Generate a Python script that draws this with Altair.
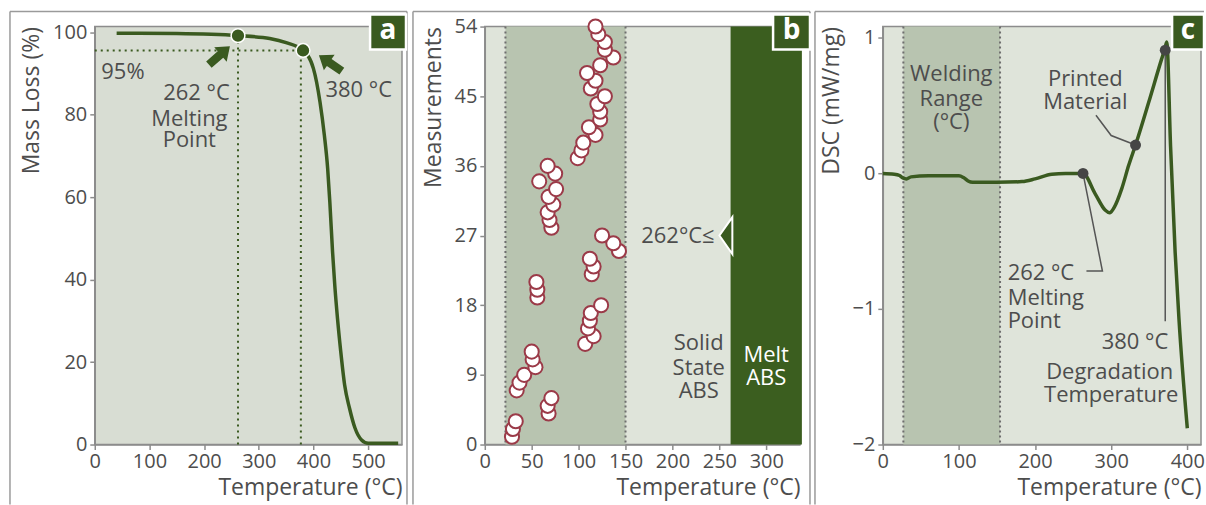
import altair as alt
import pandas as pd

FONT = "Open Sans"
TXT = "#4d4d4d"
GREEN = "#3a5a20"
FRAME = "#9a9a9a"
H = 419
TFS = 22  # annotation font size

# ---------------- Panel a: TGA ----------------
tga_temp = [40, 150, 262, 320, 350, 381, 400, 412, 420, 426, 430, 435, 439, 444, 450, 457, 466, 476, 488, 500, 555]
tga_mass = [99.8, 99.7, 99.2, 98.5, 97.5, 95.6, 91.2, 83.1, 75, 67, 58.8, 46.7, 38.7, 30.6, 22.5, 14.5, 8.8, 4, 1.1, 0.3, 0.3]
tga_pt_temp = [262, 381]
tga_pt_mass = [99.2, 95.6]
a_h_t = [0]
a_h_t2 = [381]
a_h_v = [95.6]
a_v_t = [262, 377]
a_v_top = [99.2, 95.6]
arrow_t = [228, 431]
arrow_v = [94.4, 92.5]
arrow_angle = [319, 214.6]
a_lbl_left = ["95%", "380 °C"]
a_lbl_left_t = [12, 422]
a_lbl_left_v = [90.3, 85.9]
a_lbl_mid = ["262 °C", "Melting", "Point"]
a_lbl_mid_t = [186, 173, 173]
a_lbl_mid_v = [85.2, 79, 73.9]

# ---------------- Panel b: measurements ----------------
b_meas = list(range(1, 55))
b_temp = [29, 30, 33, 68, 67, 71, 34, 37, 42, 54, 51, 50, 107, 116, 110, 112, 113, 124, 56, 56,
          55, 114, 116, 112, 143, 137, 125, 71, 69, 67, 73, 68, 76, 58, 75, 67, 99, 103, 105, 118,
          111, 123, 123, 120, 128, 113, 118, 109, 123, 137, 128, 128, 121, 118]
b_weld = [22, 150]
b_melt = [262, 338]
b_tri_t = [257]
b_tri_v = [27]
b_lbl_right = ["262°C≤"]
b_lbl_right_t = [245]
b_lbl_right_v = [27]
b_solid = ["Solid", "State", "ABS"]
b_solid_t = [228, 228, 228]
b_solid_v = [13.1, 9.9, 6.9]
b_meltlbl = ["Melt", "ABS"]
b_meltlbl_t = [300, 300]
b_meltlbl_v = [11.6, 8.6]

# ---------------- Panel c: DSC ----------------
dsc_temp = [0, 15, 22, 27, 31, 37, 60, 100, 106, 112, 118, 150, 183, 200, 222, 240, 263, 279, 292, 298,
            304, 314, 323, 332, 349, 366, 371, 373, 378, 384, 389, 400]
dsc_val = [0, -0.005, -0.015, -0.035, -0.04, -0.025, -0.017, -0.017, -0.03, -0.055, -0.065, -0.065, -0.06,
           -0.04, -0.005, 0, 0, -0.15, -0.27, -0.29, -0.25, -0.11, 0.06, 0.21, 0.52, 0.84, 0.93, 0.97,
           0.2, -0.58, -1.07, -1.88]
c_weld = [27, 154]
c_pt_t = [263, 332, 371]
c_pt_v = [0, 0.21, 0.91]
lead_id = [1, 1, 1, 2, 2, 2, 3, 3]
lead_t = [263, 288.5, 267.5, 280, 300, 332, 371, 371]
lead_v = [0, -0.72, -0.72, 0.43, 0.28, 0.21, 0.91, -1.09]
c_lbl_mid = ["Welding", "Range", "(°C)", "Printed", "Material", "Degradation", "Temperature"]
c_lbl_mid_t = [90, 90, 90, 266, 266, 298, 300]
c_lbl_mid_v = [0.734, 0.55, 0.38, 0.697, 0.526, -1.467, -1.638]
c_lbl_left = ["262 °C", "Melting", "Point"]
c_lbl_left_t = [164, 164, 164]
c_lbl_left_v = [-0.734, -0.917, -1.088]
c_lbl_right = ["380 °C"]
c_lbl_right_t = [375]
c_lbl_right_v = [-1.247]

ONE = pd.DataFrame({"k": [0]})


def X(domain, ticks, field="t"):
    return alt.X(f"{field}:Q", scale=alt.Scale(domain=domain, nice=False, zero=False),
                 axis=alt.Axis(values=ticks, labelFlush=False), title="Temperature (°C)")


def Y(domain, ticks, title, field="v"):
    return alt.Y(f"{field}:Q", scale=alt.Scale(domain=domain, nice=False, zero=False),
                 axis=alt.Axis(values=ticks, labelFlush=False), title=title)


def texts(lbls, ts, vs, align, xe, ye, color=TXT):
    df = pd.DataFrame({"s": lbls, "t": ts, "v": vs})
    return alt.Chart(df).mark_text(font=FONT, fontSize=TFS, color=color, align=align,
                                   baseline="middle").encode(x=xe, y=ye, text="s:N")


def frame(left, right, show_right=True):
    base = alt.Chart(ONE)
    layers = [
        base.mark_rule(color=FRAME, strokeWidth=1.5).encode(
            x=alt.value(left), y=alt.value(-15), y2=alt.value(H + 60)),
        base.mark_rule(color=FRAME, strokeWidth=1.5).encode(
            x=alt.value(left), x2=alt.value(right), y=alt.value(-15)),
    ]
    if show_right:
        layers.append(base.mark_rule(color=FRAME, strokeWidth=1.5).encode(
            x=alt.value(right), y=alt.value(-15), y2=alt.value(H + 60)))
    return layers


def tag(letter, x1, x2):
    base = alt.Chart(ONE)
    return [
        base.mark_rect(fill=GREEN, stroke="white", strokeWidth=2.5).encode(
            x=alt.value(x1), x2=alt.value(x2), y=alt.value(-12), y2=alt.value(23)),
        base.mark_text(font=FONT, fontSize=28, fontWeight="bold", color="white",
                       baseline="middle").encode(
            x=alt.value((x1 + x2) / 2), y=alt.value(4), text=alt.value(letter)),
    ]


# ---- panel a
WA = 308
xa = X([0, 562], [0, 100, 200, 300, 400, 500])
ya = Y([0, 101.4], [0, 20, 40, 60, 80, 100], "Mass Loss (%)")
xa2 = alt.X2("t2:Q")
ya2 = alt.Y2("v2:Q")

tga_df = pd.DataFrame({"t": tga_temp, "v": tga_mass})
a_line = alt.Chart(tga_df).mark_line(color=GREEN, strokeWidth=3.5, interpolate="monotone").encode(x=xa, y=ya)
a_h = alt.Chart(pd.DataFrame({"t": a_h_t, "t2": a_h_t2, "v": a_h_v})).mark_rule(
    color=GREEN, strokeWidth=2, strokeDash=[2, 4]).encode(x=xa, x2=xa2, y=ya)
a_v = alt.Chart(pd.DataFrame({"t": a_v_t, "v": [0] * len(a_v_t), "v2": a_v_top})).mark_rule(
    color=GREEN, strokeWidth=2, strokeDash=[2, 4]).encode(x=xa, y=ya, y2=ya2)
a_pts = alt.Chart(pd.DataFrame({"t": tga_pt_temp, "v": tga_pt_mass})).mark_point(
    shape="circle", filled=True, fill=GREEN, stroke="white", strokeWidth=1.5, size=190, opacity=1).encode(x=xa, y=ya)
ARROW = "M-1,-0.3 L0.1,-0.3 L0.1,-0.68 L1,0 L0.1,0.68 L0.1,0.3 L-1,0.3 Z"
a_arrows = alt.Chart(pd.DataFrame({"t": arrow_t, "v": arrow_v, "ang": arrow_angle})).mark_point(
    shape=ARROW, filled=True, fill=GREEN, strokeWidth=0, size=780, opacity=1).encode(
    x=xa, y=ya, angle=alt.Angle("ang:Q", scale=None))
a_t1 = texts(a_lbl_left, a_lbl_left_t, a_lbl_left_v, "left", xa, ya)
a_t2 = texts(a_lbl_mid, a_lbl_mid_t, a_lbl_mid_v, "center", xa, ya)

panel_a = alt.layer(a_line, a_h, a_v, a_pts, a_arrows, a_t1, a_t2,
                    *frame(-85, WA + 5), *tag("a", WA - 32, WA + 4)).properties(
    width=WA, height=H, view=alt.ViewBackground(fill="#d8ddd3", stroke="#8c8c8c", strokeWidth=1.5))

# ---- panel b
WB = 316
xb = X([0, 336], [0, 50, 100, 150, 200, 250, 300])
yb = Y([0, 54], [0, 9, 18, 27, 36, 45, 54], "Measurements")
b_band = alt.Chart(pd.DataFrame({"t": [b_weld[0]], "t2": [b_weld[1]]})).mark_rect(
    fill="#b8c4b0").encode(x=xb, x2=xa2, y=alt.value(0), y2=alt.value(H))
b_meltband = alt.Chart(pd.DataFrame({"t": [b_melt[0]], "t2": [b_melt[1]]})).mark_rect(
    fill="#3b5e1f").encode(x=xb, x2=xa2, y=alt.value(0), y2=alt.value(H))
b_dots = alt.Chart(pd.DataFrame({"t": b_weld})).mark_rule(
    color="#6e6e6e", strokeWidth=2, strokeDash=[2, 3]).encode(x=xb, y=alt.value(0), y2=alt.value(H))
b_pts = alt.Chart(pd.DataFrame({"t": b_temp, "v": b_meas})).mark_circle(
    fill="white", stroke="#9b3a48", strokeWidth=2, size=200, opacity=1).encode(x=xb, y=yb)
TRI = "M0.35,-1 L-0.35,0 L0.35,1 Z"
b_tri = alt.Chart(pd.DataFrame({"t": b_tri_t, "v": b_tri_v})).mark_point(
    shape=TRI, filled=True, fill=GREEN, stroke="white", strokeWidth=2, size=1369, opacity=1).encode(x=xb, y=yb)
b_t1 = texts(b_lbl_right, b_lbl_right_t, b_lbl_right_v, "right", xb, yb)
b_t2 = texts(b_solid, b_solid_t, b_solid_v, "center", xb, yb)
b_t3 = texts(b_meltlbl, b_meltlbl_t, b_meltlbl_v, "center", xb, yb, color="white")

panel_b = alt.layer(b_band, b_meltband, b_dots, b_pts, b_tri, b_t1, b_t2, b_t3,
                    *frame(-72, WB + 10), *tag("b", WB - 27, WB + 10)).properties(
    width=WB, height=H, view=alt.ViewBackground(fill="#dfe4da", stroke="#8c8c8c", strokeWidth=1.5))

# ---- panel c
WC = 319
xc = X([0, 418], [0, 100, 200, 300, 400])
yc = Y([-2, 1.084], [-2, -1, 0, 1], "DSC (mW/mg)")
c_band = alt.Chart(pd.DataFrame({"t": [c_weld[0]], "t2": [c_weld[1]]})).mark_rect(
    fill="#b8c4b0").encode(x=xc, x2=xa2, y=alt.value(0), y2=alt.value(H))
c_dots = alt.Chart(pd.DataFrame({"t": c_weld})).mark_rule(
    color="#6e6e6e", strokeWidth=2, strokeDash=[2, 3]).encode(x=xc, y=alt.value(0), y2=alt.value(H))
c_lead = alt.Chart(pd.DataFrame({"id": lead_id, "t": lead_t, "v": lead_v, "o": list(range(len(lead_t)))})).mark_line(
    color="#555555", strokeWidth=1.5).encode(x=xc, y=yc, detail="id:N", order="o:Q")
c_line = alt.Chart(pd.DataFrame({"t": dsc_temp, "v": dsc_val})).mark_line(
    color=GREEN, strokeWidth=3.5, interpolate="monotone").encode(x=xc, y=yc)
c_pts = alt.Chart(pd.DataFrame({"t": c_pt_t, "v": c_pt_v})).mark_circle(
    color="#454545", size=120, opacity=1).encode(x=xc, y=yc)
c_t1 = texts(c_lbl_mid, c_lbl_mid_t, c_lbl_mid_v, "center", xc, yc)
c_t2 = texts(c_lbl_left, c_lbl_left_t, c_lbl_left_v, "left", xc, yc)
c_t3 = texts(c_lbl_right, c_lbl_right_t, c_lbl_right_v, "right", xc, yc)

panel_c = alt.layer(c_band, c_dots, c_lead, c_line, c_pts, c_t1, c_t2, c_t3,
                    *frame(-68, WC + 3, show_right=False), *tag("c", WC - 29, WC + 3)).properties(
    width=WC, height=H, view=alt.ViewBackground(fill="#dfe4da", stroke="#8c8c8c", strokeWidth=1.5))

chart = alt.hconcat(
    panel_a, panel_b, panel_c, spacing=83, bounds="flush"
).properties(
    padding={"left": 8, "top": 9, "right": 0, "bottom": 0},
    background="white"
).configure_axis(
    labelFont=FONT, titleFont=FONT, labelFontSize=20, titleFontSize=23,
    labelColor=TXT, titleColor=TXT, titleFontWeight="normal",
    domainColor="#8c8c8c", tickColor="#8c8c8c", tickSize=5, grid=False,
    domainWidth=1.5, tickWidth=1.5
).configure_axisX(
    titleAnchor="end", labelPadding=2, titlePadding=5
).configure_axisY(
    titleAnchor="end", labelPadding=3, titlePadding=9
)

chart.save("out.html", embed_options={"renderer": "svg", "actions": False})
